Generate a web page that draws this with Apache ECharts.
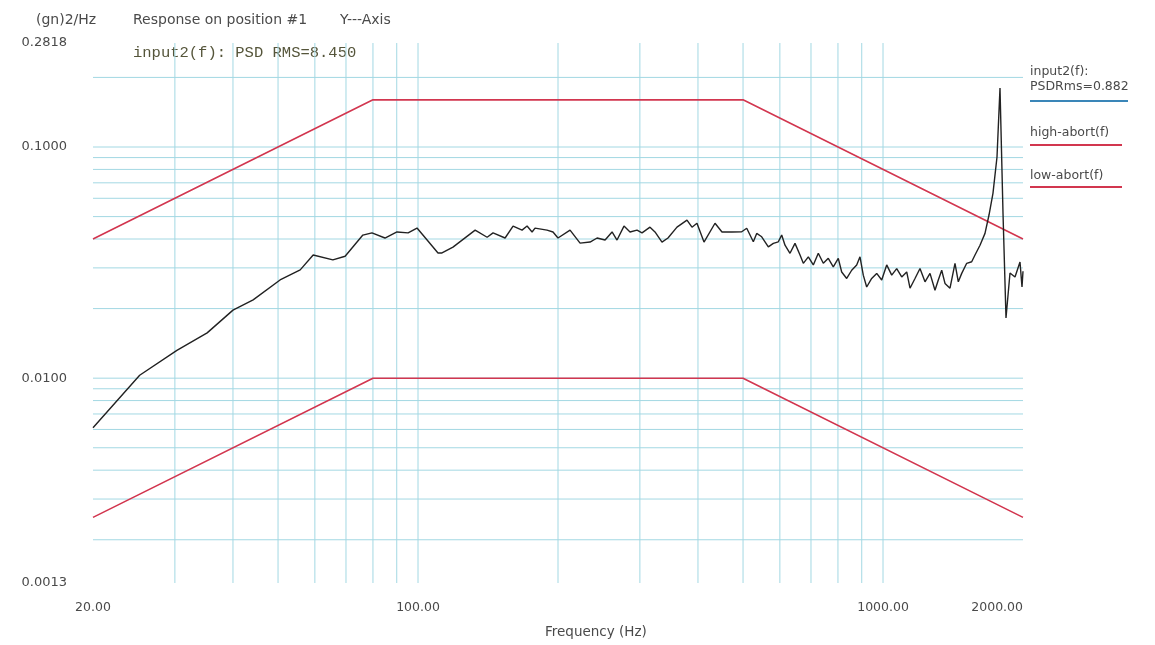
<!DOCTYPE html>
<html><head><meta charset="utf-8">
<script src="https://cdn.jsdelivr.net/npm/echarts@6/dist/echarts.min.js"></script>
<style>html,body{margin:0;padding:0;background:#fff}#c{width:1155px;height:645px}</style>
</head><body><div id="c"></div>
<script>
// Response PSD (gn^2/Hz) vs frequency (Hz)
const freq = [20, 25.2, 30.3, 35.2, 40.0, 44.2, 50.5, 55.8, 59.5, 65.6, 69.7, 76.1, 79.6, 84.9, 90.1, 95.2, 99.5, 104.6, 110.4, 112.6, 118.9,
  132.7, 140.8, 145.0, 153.9, 160.1, 167.4, 171.6, 175.9, 178.5, 189.4, 195.1, 200, 212.3, 223.1, 234.4, 242.7, 252.5, 261.4, 267.9,
  277.3, 285.7, 295.8, 303.2, 315.4, 323.3, 334.7, 344.8, 360.5, 378.8, 388.3, 398.0, 412.1, 435.2, 450.5, 473.4,
  496.7, 509.2, 526.1, 535.0, 548.4, 566.7, 580.9, 595.4, 605.5, 615.5, 630.9, 646.7, 663.0, 673.9, 690.8, 708.1, 725.8, 744.0,
  762.6, 781.7, 801.3, 814.9, 835.4, 856.3, 877.8, 892.2, 906.9, 922.3, 945.4, 969.2, 993.5, 1018.4, 1044.0, 1070.1, 1097.0,
  1124.5, 1143.0, 1171.6, 1200.9, 1231.1, 1261.9, 1293.5, 1314.9, 1337.2, 1359.2, 1393.3, 1428.2, 1451.8, 1476.5, 1513.4,
  1551.3, 1576.9, 1616.4, 1656.9, 1690.1, 1723.9, 1758.4, 1784.7, 1811.4, 1838.5, 1875.3, 1922.3, 1970.5, 1990.1, 2000];
const psd = [0.0061, 0.0103, 0.0132, 0.0157, 0.0197, 0.0218, 0.0266, 0.0294, 0.0341, 0.0325, 0.0337, 0.0416, 0.0425, 0.0404, 0.0429, 0.0425, 0.0446, 0.0396, 0.0348, 0.0348, 0.0369,
  0.0437, 0.0407, 0.0425, 0.0404, 0.0455, 0.0437, 0.0455, 0.0429, 0.0446, 0.0437, 0.0429, 0.0404, 0.0437, 0.0384, 0.0388, 0.0404, 0.0396, 0.0429, 0.0396,
  0.0455, 0.0429, 0.0437, 0.0425, 0.0450, 0.0429, 0.0388, 0.0404, 0.0450, 0.0483, 0.0450, 0.0468, 0.0388, 0.0468, 0.0429, 0.0429,
  0.0430, 0.0445, 0.0389, 0.0423, 0.0409, 0.0370, 0.0383, 0.0389, 0.0416, 0.0376, 0.0347, 0.0383, 0.0341, 0.0314, 0.0335, 0.0309, 0.0347, 0.0314,
  0.0330, 0.0303, 0.0330, 0.0288, 0.0270, 0.0293, 0.0309, 0.0335, 0.0279, 0.0248, 0.0270, 0.0284, 0.0266, 0.0309, 0.0279, 0.0298, 0.0274,
  0.0288, 0.0245, 0.0270, 0.0298, 0.0261, 0.0284, 0.0240, 0.0266, 0.0293, 0.0257, 0.0245, 0.0314, 0.0261, 0.0284, 0.0314,
  0.0319, 0.0341, 0.0376, 0.0423, 0.0508, 0.0632, 0.0905, 0.1800, 0.0518, 0.0182, 0.0285, 0.0274, 0.0318, 0.0248, 0.0290];
// abort limit profiles
const abortFreq = [20, 80, 500, 2000];
const highAbort = [0.04, 0.16, 0.16, 0.04];
const lowAbort = [0.0025, 0.01, 0.01, 0.0025];
// tick labels
const xTickLabels = [20, 100, 1000, 2000];
const yTickLabels = [0.0013, 0.01, 0.1, 0.2818];
// log grid lines
const gridFreqs = [30, 40, 50, 60, 70, 80, 90, 100, 200, 300, 400, 500, 600, 700, 800, 900, 1000];
const gridLevels = [0.002, 0.003, 0.004, 0.005, 0.006, 0.007, 0.008, 0.009, 0.01, 0.02, 0.03, 0.04, 0.05, 0.06, 0.07, 0.08, 0.09, 0.1, 0.2];

const FONT = '"DejaVu Sans", Verdana, sans-serif';
const TXT = '#4a4a4a';
const RED = '#d2364f';
const GRIDC = '#a3d8e3';
const X0 = 20, X1 = 2000, Y0 = 0.0013, Y1 = 0.2818;
const near = (v, arr) => arr.some(a => Math.abs(v - a) / a < 1e-3);

const gridSeries = [];
gridFreqs.forEach(f => gridSeries.push({
  type: 'line', silent: true, z: 1, symbol: 'none', showSymbol: false,
  lineStyle: {color: GRIDC, width: 1}, data: [[f, Y0], [f, Y1]]
}));
gridLevels.forEach(v => gridSeries.push({
  type: 'line', silent: true, z: 1, symbol: 'none', showSymbol: false,
  lineStyle: {color: GRIDC, width: 1}, data: [[X0, v], [X1, v]]
}));

const chart = echarts.init(document.getElementById('c'), null, {renderer: 'canvas'});
chart.setOption({
  animation: false,
  backgroundColor: '#fff',
  grid: {left: 93, right: 132, top: 43, bottom: 62},
  xAxis: {
    type: 'log', logBase: 10, min: X0, max: X1,
    axisLine: {show: false}, axisTick: {show: false}, splitLine: {show: false},
    axisLabel: {
      showMinLabel: true, showMaxLabel: true, alignMaxLabel: 'right',
      color: TXT, fontFamily: FONT, fontSize: 12.5, margin: 18,
      formatter: v => near(v, xTickLabels) ? Number(v).toFixed(2) : ''
    }
  },
  yAxis: {
    type: 'log', logBase: 10, min: Y0, max: Y1,
    axisLine: {show: false}, axisTick: {show: false}, splitLine: {show: false},
    axisLabel: {
      showMinLabel: true, showMaxLabel: true,
      color: TXT, fontFamily: FONT, fontSize: 13, margin: 26,
      formatter: v => near(v, yTickLabels) ? Number(v).toFixed(4) : ''
    }
  },
  series: gridSeries.concat([
    {
      type: 'line', name: 'high-abort(f)', z: 3, showSymbol: false, symbol: 'none',
      lineStyle: {color: RED, width: 1.6},
      data: abortFreq.map((f, i) => [f, highAbort[i]])
    },
    {
      type: 'line', name: 'low-abort(f)', z: 3, showSymbol: false, symbol: 'none',
      lineStyle: {color: RED, width: 1.6},
      data: abortFreq.map((f, i) => [f, lowAbort[i]])
    },
    {
      type: 'line', name: 'input2(f)', z: 4, showSymbol: false, symbol: 'none',
      lineStyle: {color: '#222', width: 1.4},
      data: freq.map((f, i) => [f, psd[i]])
    }
  ]),
  graphic: [
    {type: 'text', left: 36, top: 13, style: {text: '(gn)2/Hz', font: '14px ' + FONT, fill: TXT}},
    {type: 'text', left: 133, top: 13, style: {text: 'Response on position #1', font: '14px ' + FONT, fill: TXT}},
    {type: 'text', left: 340, top: 13, style: {text: 'Y---Axis', font: '14px ' + FONT, fill: TXT}},
    {type: 'text', left: 133, top: 45, style: {text: 'input2(f): PSD RMS=8.450', font: '15.5px "Liberation Mono", "DejaVu Sans Mono", monospace', fill: '#55553a'}},
    {type: 'text', left: 1030, top: 65, style: {text: 'input2(f):', font: '12.5px ' + FONT, fill: TXT}},
    {type: 'text', left: 1030, top: 80, style: {text: 'PSDRms=0.882', font: '12.5px ' + FONT, fill: TXT}},
    {type: 'line', shape: {x1: 1030, y1: 101, x2: 1128, y2: 101}, style: {stroke: '#3a86b8', lineWidth: 2}},
    {type: 'text', left: 1030, top: 126, style: {text: 'high-abort(f)', font: '12.5px ' + FONT, fill: TXT}},
    {type: 'line', shape: {x1: 1030, y1: 145, x2: 1122, y2: 145}, style: {stroke: RED, lineWidth: 2}},
    {type: 'text', left: 1030, top: 169, style: {text: 'low-abort(f)', font: '12.5px ' + FONT, fill: TXT}},
    {type: 'line', shape: {x1: 1030, y1: 187, x2: 1122, y2: 187}, style: {stroke: RED, lineWidth: 2}},
    {type: 'text', left: 545, top: 625, style: {text: 'Frequency (Hz)', font: '13.5px ' + FONT, fill: TXT}}
  ]
});
</script></body></html>
